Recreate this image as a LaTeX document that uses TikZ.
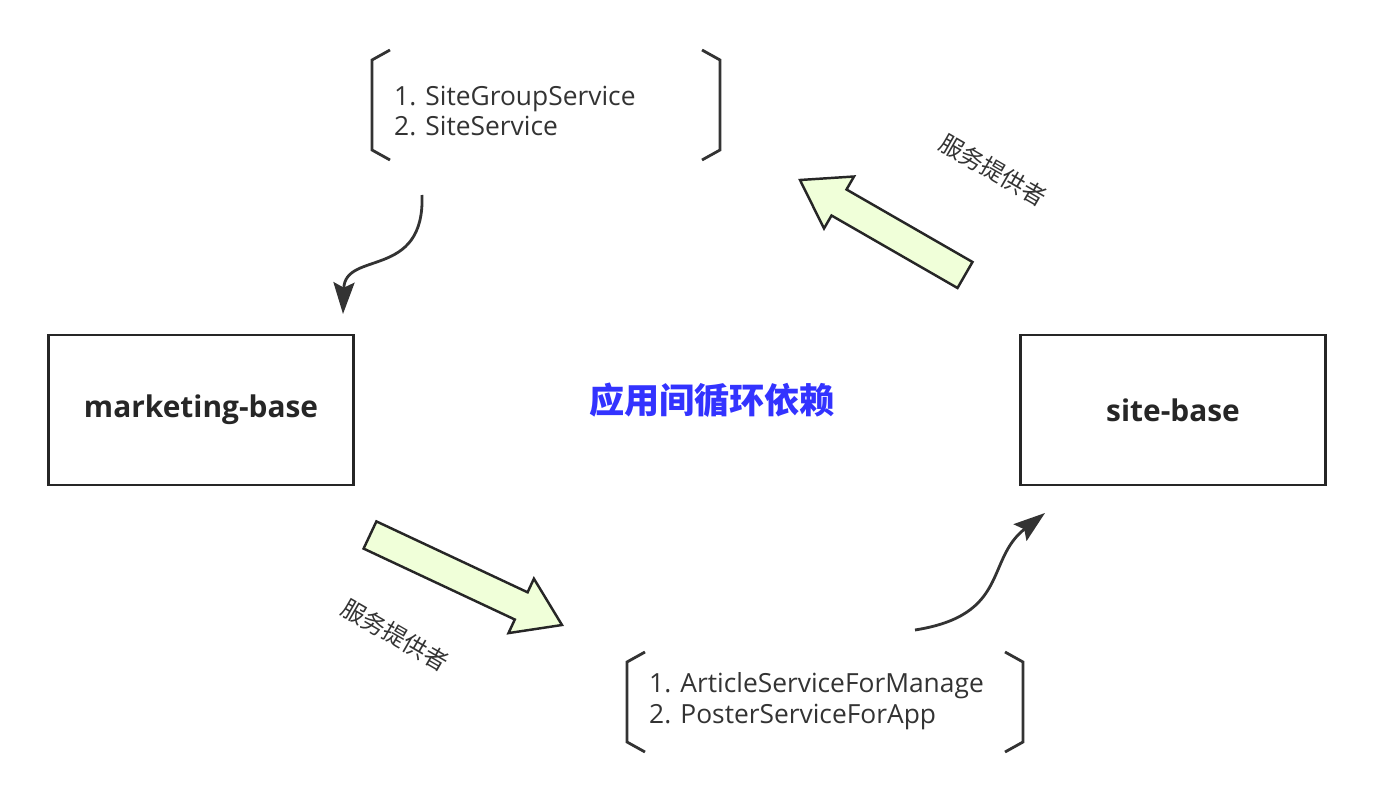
\documentclass[tikz,border=0pt]{standalone}
\usepackage{fontspec}
\setmainfont{Open Sans}
\newfontfamily\cjk{Noto Sans CJK SC}
\usetikzlibrary{positioning,arrows.meta}
\begin{document}
\begin{tikzpicture}[x=0.02cm,y=-0.02cm,>={Stealth[length=18pt,width=12pt,inset=3pt]}]

  \tikzstyle{appbox}=[rectangle,draw=black!85,line width=1.6pt,
    minimum width=6.1cm,minimum height=3cm,font=\fontsize{17}{20}\selectfont\bfseries,text=black!85]
  \tikzstyle{svclist}=[align=left,anchor=west,font=\fontsize{15}{17.5}\selectfont,text=black!80]
  \tikzstyle{bracket}=[draw=black!80,line width=1.6pt]
  \tikzstyle{bigarrow}=[draw=black!85,line width=1.4pt,fill=green!20!lime!15]
  \tikzstyle{role}=[font=\cjk\fontsize{13.5}{15}\selectfont,text=black!80]
  \tikzstyle{dep}=[->,draw=black!80,line width=1.6pt]

  \useasboundingbox (0,0) rectangle (1376,804);

  \node[appbox] (mb) at (201,410) {marketing-base};
  \node[appbox] (sb) at (1173,410) {site-base};
  \node[font=\cjk\fontsize{20}{24}\selectfont\bfseries,text={rgb,255:red,51;green,51;blue,255}] (title) at (712,400) {应用间循环依赖};

  % service lists
  \node[svclist] (top) at (388,111) {1. SiteGroupService\\2. SiteService};
  \draw[bracket] (390,50) -- (372,60) -- (372,150) -- (390,160);
  \draw[bracket] (702,50) -- (720,60) -- (720,150) -- (702,160);
  \node[svclist] (bot) at (643,701) {1. ArticleServiceForManage\\2. PosterServiceForApp};
  \draw[bracket] (645,652) -- (627,662) -- (627,742) -- (645,752);
  \draw[bracket] (1005,652) -- (1023,662) -- (1023,742) -- (1005,752);

  % providers
  \draw[bigarrow] (972.5,262) -- (846.5,189.5) -- (854,176.5) -- (800,180)
    -- (824,228.5) -- (831.5,215.5) -- (957.5,288) -- cycle;
  \draw[bigarrow] (376.4,521.4) -- (527.6,592.3) -- (533.9,578.7) -- (562,625)
    -- (508.5,633.1) -- (514.8,619.5) -- (363.6,548.6) -- cycle;
  \node[role,rotate=-30] (r1) at (993,170) {服务提供者};
  \node[role,rotate=-30] (r2) at (395,635) {服务提供者};

  % dependencies
  \coordinate (t1) at (422,195);
  \coordinate (t2) at (343,314);
  \coordinate (b1) at (915,630);
  \coordinate (b2) at (1045,513);
  \draw[dep] (t1) .. controls (425,280) and (345,250) .. (t2);
  \draw[dep] (b1) .. controls (1010,615) and (985,560) .. (b2);
\end{tikzpicture}
\end{document}
